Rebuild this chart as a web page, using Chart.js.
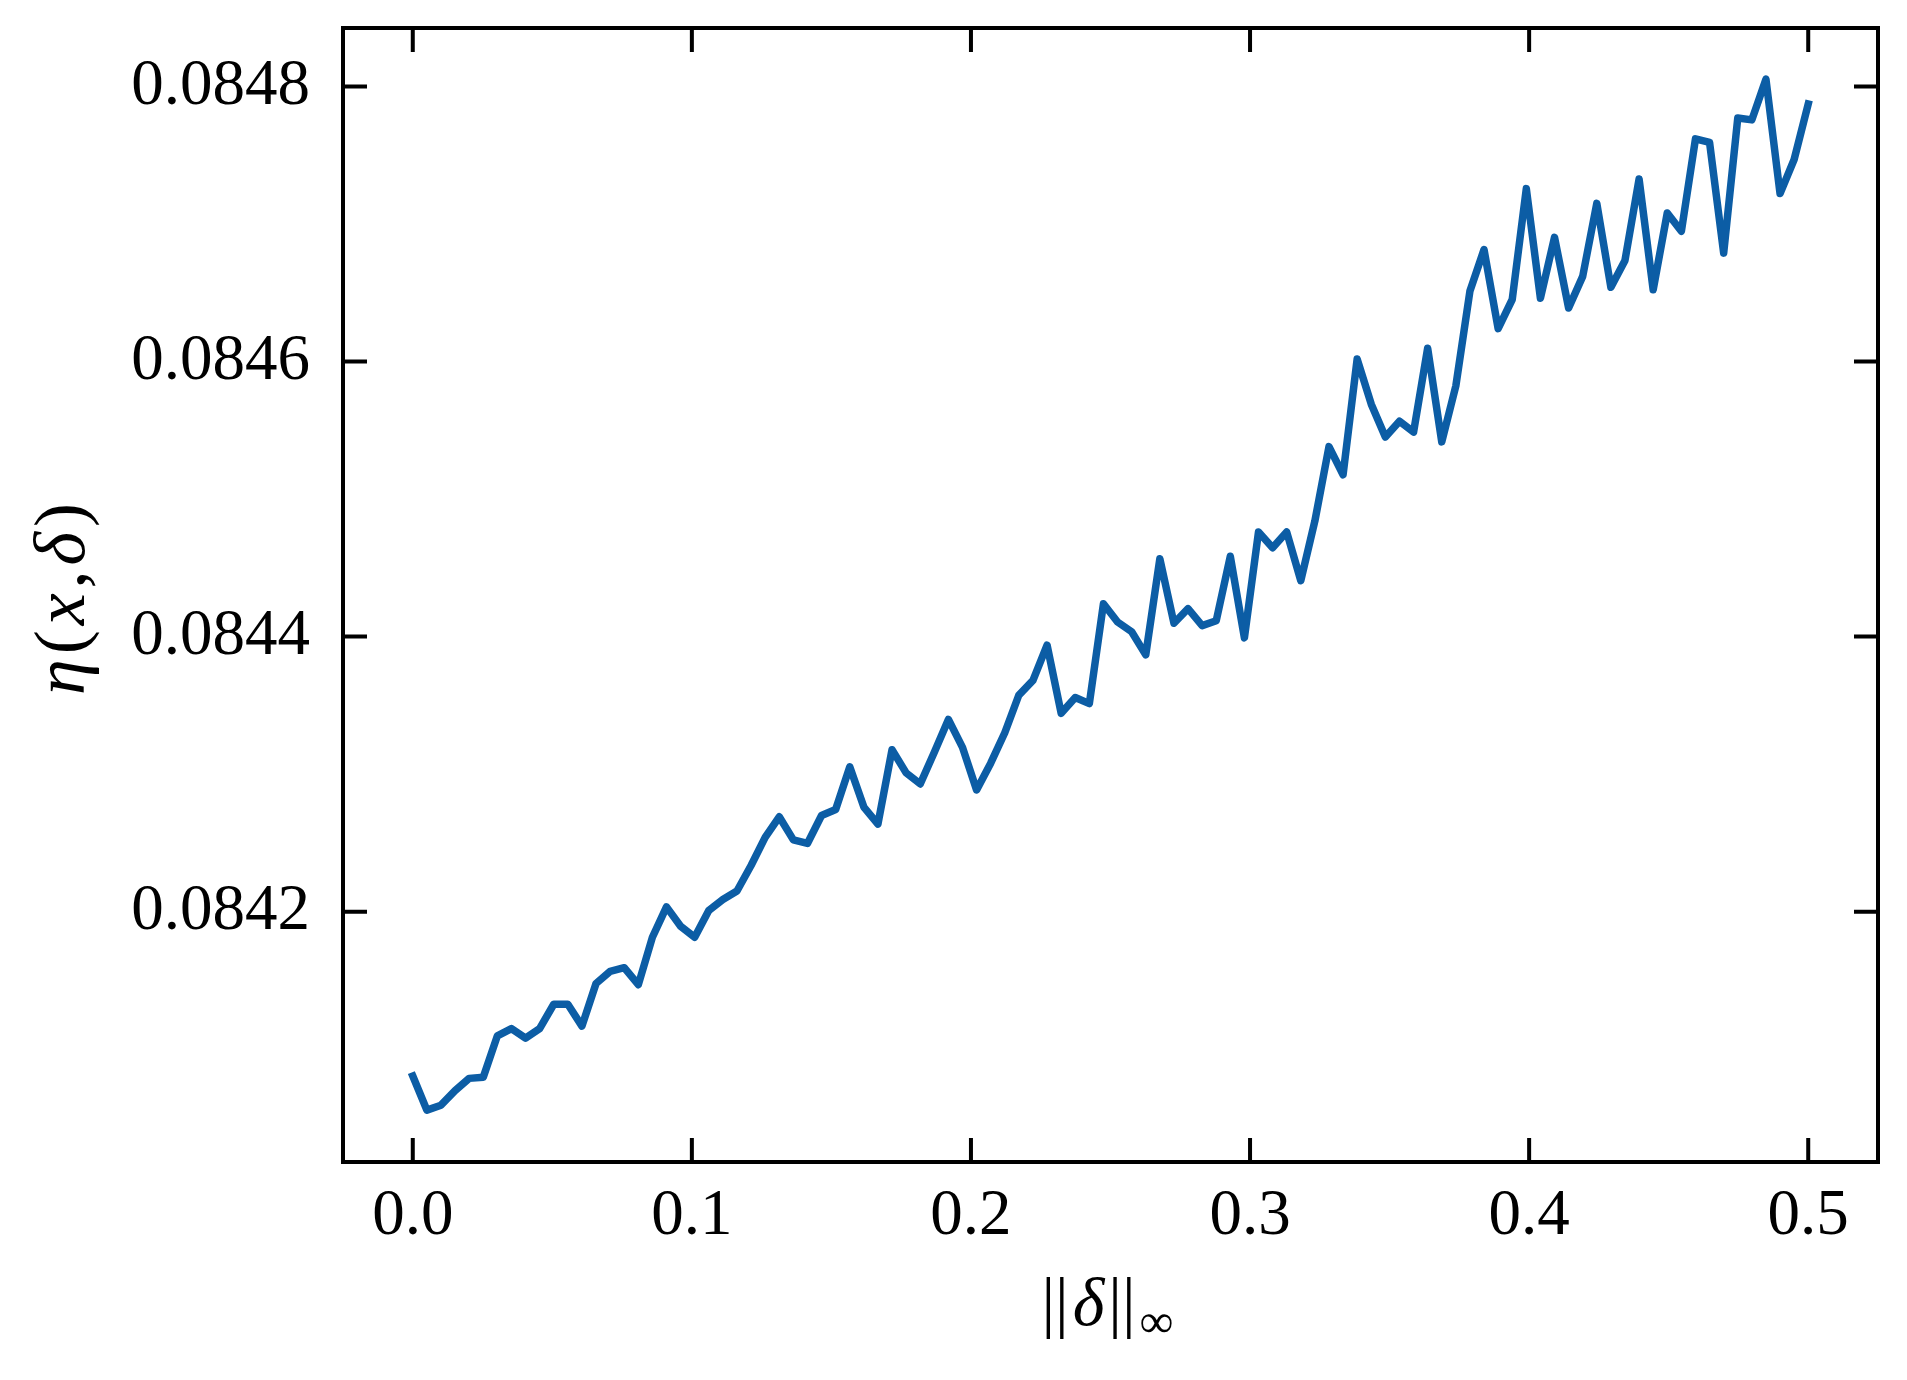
<!DOCTYPE html>
<html>
<head>
<meta charset="utf-8">
<script src="https://cdn.jsdelivr.net/npm/chart.js@4.4.1/dist/chart.umd.min.js"></script>
<style>
  html, body { margin: 0; padding: 0; background: #fff; }
  #wrap { width: 1907px; height: 1380px; position: relative; }
</style>
</head>
<body>
<div id="wrap"><canvas id="etaChart"></canvas></div>
<script>
// sampled perturbation sizes ||delta||_inf
const deltaNorm = [
  0, 0.00505, 0.01010, 0.01515, 0.02020, 0.02525, 0.03030, 0.03535, 0.04040, 0.04545,
  0.05051, 0.05556, 0.06061, 0.06566, 0.07071, 0.07576, 0.08081, 0.08586, 0.09091, 0.09596,
  0.10101, 0.10606, 0.11111, 0.11616, 0.12121, 0.12626, 0.13131, 0.13636, 0.14141, 0.14646,
  0.15152, 0.15657, 0.16162, 0.16667, 0.17172, 0.17677, 0.18182, 0.18687, 0.19192, 0.19697,
  0.20202, 0.20707, 0.21212, 0.21717, 0.22222, 0.22727, 0.23232, 0.23737, 0.24242, 0.24747,
  0.25253, 0.25758, 0.26263, 0.26768, 0.27273, 0.27778, 0.28283, 0.28788, 0.29293, 0.29798,
  0.30303, 0.30808, 0.31313, 0.31818, 0.32323, 0.32828, 0.33333, 0.33838, 0.34343, 0.34848,
  0.35354, 0.35859, 0.36364, 0.36869, 0.37374, 0.37879, 0.38384, 0.38889, 0.39394, 0.39899,
  0.40404, 0.40909, 0.41414, 0.41919, 0.42424, 0.42929, 0.43434, 0.43939, 0.44444, 0.44949,
  0.45455, 0.45960, 0.46465, 0.46970, 0.47475, 0.47980, 0.48485, 0.48990, 0.49495, 0.5
];

// eta(x, delta)
const etaValues = [
  0.0840805, 0.0840557, 0.0840593, 0.0840699, 0.0840788, 0.0840796, 0.0841097, 0.0841150, 0.0841080, 0.0841150,
  0.0841327, 0.0841327, 0.0841168, 0.0841478, 0.0841566, 0.0841593, 0.0841469, 0.0841814, 0.0842035, 0.0841894,
  0.0841814, 0.0842009, 0.0842088, 0.0842150, 0.0842336, 0.0842540, 0.0842690, 0.0842522, 0.0842496, 0.0842699,
  0.0842743, 0.0843053, 0.0842761, 0.0842637, 0.0843177, 0.0843009, 0.0842929, 0.0843159, 0.0843398, 0.0843195,
  0.0842885, 0.0843080, 0.0843301, 0.0843575, 0.0843681, 0.0843938, 0.0843442, 0.0843557, 0.0843513, 0.0844239,
  0.0844106, 0.0844035, 0.0843867, 0.0844566, 0.0844097, 0.0844203, 0.0844080, 0.0844115, 0.0844584, 0.0843991,
  0.0844761, 0.0844646, 0.0844761, 0.0844407, 0.0844841, 0.0845381, 0.0845177, 0.0846018, 0.0845690, 0.0845451,
  0.0845566, 0.0845487, 0.0846097, 0.0845416, 0.0845823, 0.0846513, 0.0846814, 0.0846239, 0.0846451, 0.0847257,
  0.0846460, 0.0846903, 0.0846389, 0.0846619, 0.0847150, 0.0846540, 0.0846735, 0.0847327, 0.0846522, 0.0847080,
  0.0846947, 0.0847619, 0.0847593, 0.0846788, 0.0847770, 0.0847757, 0.0848053, 0.0847221, 0.0847469, 0.0847872
];

const xTickValues = [0, 0.1, 0.2, 0.3, 0.4, 0.5];
const xTickLabels = ['0.0', '0.1', '0.2', '0.3', '0.4', '0.5'];
const yTickValues = [0.0842, 0.0844, 0.0846, 0.0848];
const yTickLabels = ['0.0842', '0.0844', '0.0846', '0.0848'];

// axis titles, drawn piece by piece (math style)
const xTitleParts = [
  { text: '||', italic: false },
  { text: 'δ', italic: true },
  { text: '||', italic: false },
  { text: '∞', italic: false, sub: true }
];
const yTitleParts = [
  { text: 'η', italic: true },
  { text: '(', italic: false },
  { text: 'x', italic: true },
  { text: ',', italic: false },
  { text: 'δ', italic: true },
  { text: ')', italic: false }
];

const SERIF = "'Liberation Serif', 'Times New Roman', serif";
const FONT_SIZE = 65;
const LINE_COLOR = '#0C5DA5';

function partFont(p, size) {
  const s = p.sub ? size * 0.7 : size;
  return (p.italic ? 'italic ' : '') + s + 'px ' + SERIF;
}

function drawParts(ctx, parts, cx, baseline, size, gap) {
  let total = 0;
  const widths = parts.map(p => {
    ctx.font = partFont(p, size);
    const w = ctx.measureText(p.text).width;
    total += w;
    return w;
  });
  total += gap * (parts.length - 1);
  let x = cx - total / 2;
  parts.forEach((p, i) => {
    ctx.font = partFont(p, size);
    ctx.fillText(p.text, x, p.sub ? baseline + 12 : baseline);
    x += widths[i] + gap;
  });
}

// frame, inward ticks on all four sides, axis titles
const framePlugin = {
  id: 'frame',
  afterDraw(chart) {
    const ctx = chart.ctx;
    const a = chart.chartArea;
    const xs = chart.scales.x;
    const ys = chart.scales.y;
    const tick = 24;
    ctx.save();
    ctx.strokeStyle = '#000';
    ctx.lineWidth = 4;
    ctx.lineCap = 'butt';
    ctx.beginPath();
    xTickValues.forEach(v => {
      const px = xs.getPixelForValue(v);
      ctx.moveTo(px, a.bottom); ctx.lineTo(px, a.bottom - tick);
      ctx.moveTo(px, a.top); ctx.lineTo(px, a.top + tick);
    });
    yTickValues.forEach(v => {
      const py = ys.getPixelForValue(v);
      ctx.moveTo(a.left, py); ctx.lineTo(a.left + tick, py);
      ctx.moveTo(a.right, py); ctx.lineTo(a.right - tick, py);
    });
    ctx.stroke();
    ctx.strokeRect(a.left, a.top, a.right - a.left, a.bottom - a.top);

    ctx.fillStyle = '#000';
    ctx.textBaseline = 'alphabetic';
    ctx.textAlign = 'left';
    drawParts(ctx, xTitleParts, (a.left + a.right) / 2 - 3, 1325, 68, 4);

    ctx.translate(84, (a.top + a.bottom) / 2 + 4);
    ctx.rotate(-Math.PI / 2);
    drawParts(ctx, yTitleParts, 0, 0, 72, 5);
    ctx.restore();
  }
};

function zeroPadding(scale) {
  scale.paddingTop = 0;
  scale.paddingBottom = 0;
  scale.paddingLeft = 0;
  scale.paddingRight = 0;
}

const points = deltaNorm.map((d, i) => ({ x: d, y: etaValues[i] }));

const ctxEta = document.getElementById('etaChart').getContext('2d');
const etaChart = new Chart(ctxEta, {
  type: 'line',
  data: {
    datasets: [{
      label: 'eta',
      data: points,
      borderColor: LINE_COLOR,
      borderWidth: 7.5,
      borderCapStyle: 'square',
      borderJoinStyle: 'round',
      pointRadius: 0,
      tension: 0,
      fill: false
    }]
  },
  options: {
    responsive: true,
    maintainAspectRatio: false,
    devicePixelRatio: 1,
    animation: false,
    layout: { padding: { left: 0, top: 28, right: 29, bottom: 0 } },
    plugins: {
      legend: { display: false },
      tooltip: { enabled: false }
    },
    scales: {
      x: {
        type: 'linear',
        position: 'bottom',
        min: -0.025,
        max: 0.525,
        afterBuildTicks: scale => { scale.ticks = xTickValues.map(v => ({ value: v })); },
        afterFit: scale => { scale.height = 218; zeroPadding(scale); },
        grid: { display: false, drawTicks: false },
        border: { display: false },
        ticks: {
          autoSkip: false,
          maxRotation: 0,
          padding: 16,
          color: '#000',
          font: { family: SERIF, size: FONT_SIZE },
          callback: (value, index) => xTickLabels[index]
        }
      },
      y: {
        type: 'linear',
        position: 'left',
        min: 0.084018,
        max: 0.0848425,
        afterBuildTicks: scale => { scale.ticks = yTickValues.map(v => ({ value: v })); },
        afterFit: scale => { scale.width = 343; zeroPadding(scale); },
        grid: { display: false, drawTicks: false },
        border: { display: false },
        ticks: {
          autoSkip: false,
          padding: 33,
          color: '#000',
          font: { family: SERIF, size: FONT_SIZE },
          callback: (value, index) => yTickLabels[index]
        }
      }
    }
  },
  plugins: [framePlugin]
});
</script>
</body>
</html>
